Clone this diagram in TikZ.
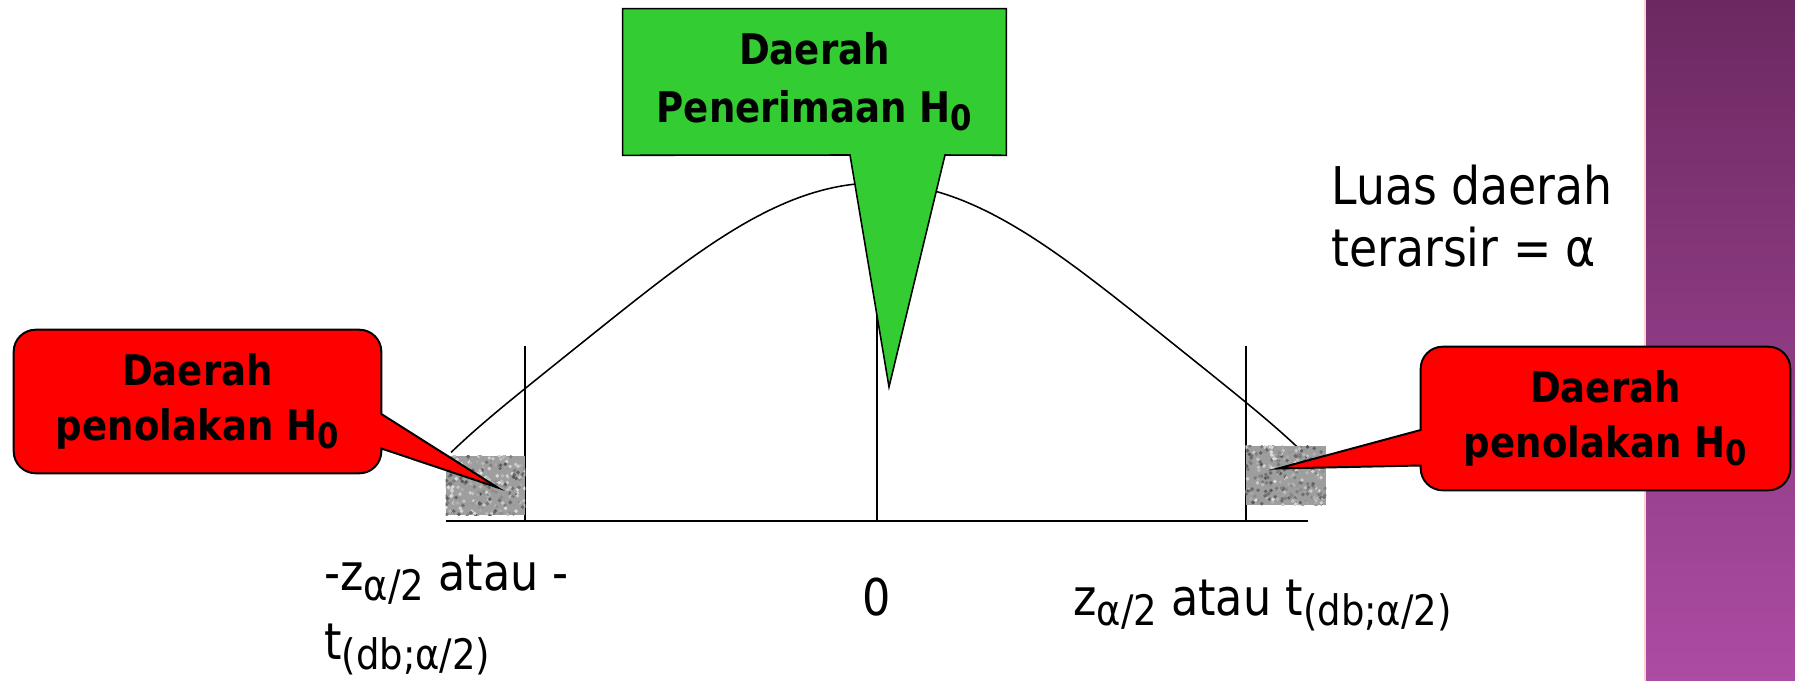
\documentclass[tikz,border=0pt]{standalone}
\usepackage{fontspec}
\setmainfont{DejaVu Sans}[FakeStretch=0.88]
\usetikzlibrary{positioning, calc}
\definecolor{hgreen}{HTML}{33CC33}
\definecolor{hred}{HTML}{FF0000}
\definecolor{bandtop}{HTML}{6C2961}
\definecolor{bandbot}{HTML}{AC4CA3}
\newcommand{\lowsub}[1]{\raisebox{-0.2em}{\scalebox{0.83}{#1}}}
\tikzset{
  calltext/.style={align=center, inner sep=0pt, font=\fontsize{30}{38.5}\selectfont\bfseries},
  callbox/.style={inner sep=0pt, minimum height=3.575cm},
  redcall/.style={draw=black, fill=hred, line width=1.4pt},
  greencall/.style={draw=black, fill=hgreen, line width=1.1pt},
  shadebox/.style={inner sep=0pt, minimum width=2cm, minimum height=1.475cm, fill=black!38},
  labtext/.style={inner sep=0pt, align=left, font=\fontsize{36}{49}\selectfont},
}

\begin{document}
\begin{tikzpicture}[
    x=0.025cm, y=-0.025cm,
    curve/.style={line width=1.1pt},
    axis/.style={line width=1.2pt},
  ]
  \useasboundingbox (0,0) rectangle (1795,681);

  % purple side band
  \shade[top color=bandtop, bottom color=bandbot] (1645,0) rectangle (1795,681);
  \draw[pink!70, line width=1.5pt] (1645,0) -- (1645,681);

  % distribution curve and axis
  \draw[curve] plot[domain=-426:427, samples=151]
    ({877+\x}, {521-338*exp(-(\x/262)^2/2)+22*(\x/427)^8});
  \draw[axis] (446,521) coordinate (axL) -- (1308,521) coordinate (axR);
  \coordinate (peak) at (877,183);
  \draw[curve] (525,346) -- (525,521);
  \draw[curve] (1246,346) -- (1246,521);
  \draw[curve] (877,521) -- (peak);

  % shaded tails
  \node[shadebox, minimum width=1.975cm] (regL) at (485.5,485.5) {};
  \node[shadebox] (regR) at (1286,475.5) {};
  \pgfmathsetseed{11}
  \foreach \r in {regL, regR} {
    \begin{scope}
      \clip (\r.south west) rectangle (\r.north east);
      \foreach \i in {1,...,260} {
        \pgfmathsetmacro{\g}{int(12+55*rnd)}
        \fill[black!\g] ($(\r.south west)+(rnd*80,-rnd*60)$) circle[radius=1.4pt];
      }
    \end{scope}
  }

  % callout boxes
  \node[callbox, minimum width=9.575cm, minimum height=3.65cm] (accept) at (814.5,82) {};
  \node[callbox, minimum width=9.175cm] (rejL) at (197.5,401.5) {};
  \node[callbox, minimum width=9.225cm] (rejR) at (1605.5,418.5) {};

  \path[greencall] (accept.north west) -- (accept.north east) -- (accept.south east)
    -- (945,155) -- (889,387) -- (850,155) -- (accept.south west) -- cycle;
  \path[redcall] (rejL.north) [rounded corners=0.55cm] -- (rejL.north east) [sharp corners]
    -- ($(rejL.east)+(0,12.5)$) -- ($(regL.center)+(12,2)$) -- ($(rejL.east)+(0,47)$)
    [rounded corners=0.55cm] -- (rejL.south east) -- (rejL.south west) -- (rejL.north west) -- cycle;
  \path[redcall] (rejR.north) [rounded corners=0.55cm] -- (rejR.north east) -- (rejR.south east)
    -- (rejR.south west) [sharp corners] -- ($(rejR.west)+(0,47)$) -- ($(regR.center)+(-8,-7)$)
    -- ($(rejR.west)+(0,11.5)$) [rounded corners=0.55cm] -- (rejR.north west) -- cycle;

  \node[calltext, font=\fontsize{30}{41}\selectfont\bfseries] (acceptxt) at (accept) {Daerah\\Penerimaan H\lowsub{0}};
  \node[calltext] (rejLtxt) at (rejL) {Daerah\\penolakan H\lowsub{0}};
  \node[calltext] (rejRtxt) at (rejR) {Daerah\\penolakan H\lowsub{0}};

  % labels
  \node[inner sep=0pt, align=left, anchor=north west, font=\fontsize{37}{44}\selectfont] (luas) at (1331,165) {Luas daerah\\terarsir = α};
  \node[labtext, anchor=base west] (labL) at (324,659) {-z\lowsub{α/2} atau -\\t\lowsub{(db;α/2)}};
  \node[labtext, anchor=base] (lab0) at (877,615) {0};
  \node[labtext, anchor=base west] (labR) at (1073,615) {z\lowsub{α/2} atau t\lowsub{(db;α/2)}};
\end{tikzpicture}
\end{document}
